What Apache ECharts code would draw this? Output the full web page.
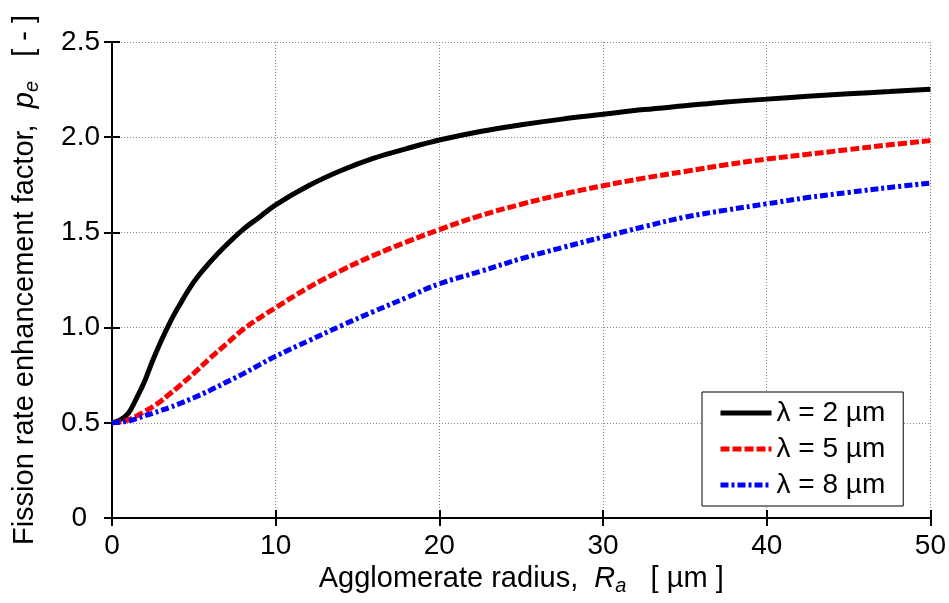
<!DOCTYPE html>
<html>
<head>
<meta charset="utf-8">
<script src="https://cdn.jsdelivr.net/npm/echarts@6/dist/echarts.min.js"></script>
<style>
html,body{margin:0;padding:0;background:#fff;}
#chart{width:949px;height:603px;}
</style>
</head>
<body>
<div id="chart"></div>
<script>
// Agglomerate radius R_a [µm]
var radius = [0, 0.5, 1, 1.5, 2, 2.5, 3, 3.5, 4, 5, 6, 7, 8, 9, 10, 12, 14, 16, 18, 20, 22.5, 25, 27.5, 30, 32.5, 35, 37.5, 40, 42.5, 45, 47.5, 50];
// lambda = 2 µm
var pe2 = [0.50, 0.515, 0.55, 0.63, 0.72, 0.83, 0.93, 1.02, 1.10, 1.24, 1.345, 1.435, 1.515, 1.58, 1.645, 1.745, 1.825, 1.89, 1.94, 1.985, 2.03, 2.065, 2.095, 2.12, 2.145, 2.165, 2.185, 2.20, 2.215, 2.228, 2.24, 2.252];
// lambda = 5 µm
var pe5 = [0.50, 0.505, 0.515, 0.535, 0.56, 0.585, 0.615, 0.65, 0.685, 0.76, 0.84, 0.915, 0.99, 1.05, 1.105, 1.21, 1.30, 1.38, 1.45, 1.515, 1.588, 1.648, 1.70, 1.745, 1.785, 1.82, 1.855, 1.885, 1.91, 1.935, 1.96, 1.982];
// lambda = 8 µm
var pe8 = [0.50, 0.503, 0.51, 0.522, 0.537, 0.55, 0.565, 0.58, 0.596, 0.632, 0.671, 0.714, 0.757, 0.804, 0.85, 0.93, 1.01, 1.085, 1.158, 1.23, 1.295, 1.362, 1.42, 1.476, 1.53, 1.58, 1.617, 1.65, 1.683, 1.71, 1.736, 1.759];
var seriesNames = ['\u03bb = 2 \u00b5m', '\u03bb = 5 \u00b5m', '\u03bb = 8 \u00b5m'];
var xTicks = {min: 0, max: 50, interval: 10};
var yTicks = {min: 0, max: 2.5, interval: 0.5};

var FONT = '"Liberation Sans", Arial, Helvetica, sans-serif';
function pairs(ys){ return radius.map(function(x,i){ return [x, ys[i]]; }); }

var chart = echarts.init(document.getElementById('chart'), null, {renderer:'canvas'});
var axisLine = {show:true, lineStyle:{color:'#000', width:2}};
var tick = {show:true, inside:true, length:8, lineStyle:{color:'#000', width:2}};
var grid = {show:true, lineStyle:{color:'#888', width:1, type:[1,2]}};
var nameRich = {
  i:{fontFamily:FONT, fontSize:29, fontStyle:'italic', color:'#000'},
  s:{fontFamily:FONT, fontSize:20, fontStyle:'italic', color:'#000', verticalAlign:'bottom', padding:[14,0,0,0]}
};

chart.setOption({
  animation:false,
  backgroundColor:'#fff',
  grid:{left:112, right:18, top:42, bottom:85, containLabel:false},
  legend:{
    orient:'vertical', left:702, top:392,
    backgroundColor:'#fff', borderColor:'#000', borderWidth:1,
    padding:[6, 18, 6, 16], itemGap:6, itemWidth:51, itemHeight:30, itemTextGap:17,
    textStyle:{fontFamily:FONT, fontSize:28, color:'#000', lineHeight:30},
    itemStyle:{opacity:0},
    lineStyle:{width:5},
    data:seriesNames
  },
  xAxis:[{
    type:'value', min:xTicks.min, max:xTicks.max, interval:xTicks.interval,
    axisLine:axisLine, axisTick:tick, splitLine:grid,
    axisLabel:{fontFamily:FONT, fontSize:28, color:'#000', margin:14},
    name:'Agglomerate radius,  {i|R}{s|a}   [ \u00b5m ]',
    nameLocation:'middle', nameGap:44,
    nameTextStyle:{fontFamily:FONT, fontSize:29, color:'#000', rich:nameRich}
  },{
    type:'value', position:'top', min:xTicks.min, max:xTicks.max, interval:xTicks.interval,
    axisLine:axisLine, axisTick:tick, splitLine:{show:false}, axisLabel:{show:false}
  }],
  yAxis:[{
    type:'value', min:yTicks.min, max:yTicks.max, interval:yTicks.interval,
    axisLine:axisLine, axisTick:tick, splitLine:grid,
    axisLabel:{fontFamily:FONT, fontSize:28, color:'#000', margin:12,
      formatter:function(v){ return v === 0 ? '{z|0}' : v.toFixed(1); },
      rich:{z:{fontFamily:FONT, fontSize:28, color:'#000', padding:[0,13,0,0]}}},
    name:'Fission rate enhancement factor,  {i|p}{s|e}   [ - ]',
    nameLocation:'middle', nameGap:70,
    nameTextStyle:{fontFamily:FONT, fontSize:29, color:'#000', rich:nameRich}
  },{
    type:'value', position:'right', min:yTicks.min, max:yTicks.max, interval:yTicks.interval,
    axisLine:axisLine, axisTick:tick, splitLine:{show:false}, axisLabel:{show:false}
  }],
  series:[
    {name:seriesNames[0], type:'line', data:pairs(pe2), smooth:0.4, symbol:'none',
     lineStyle:{color:'#000', width:5, type:'solid'}, itemStyle:{color:'#000'}},
    {name:seriesNames[1], type:'line', data:pairs(pe5), smooth:0.4, symbol:'none',
     lineStyle:{color:'#ff0000', width:5, type:[9,3]}, itemStyle:{color:'#ff0000'}},
    {name:seriesNames[2], type:'line', data:pairs(pe8), smooth:0.4, symbol:'none',
     lineStyle:{color:'#0000ff', width:5, type:[8,3,3,3]}, itemStyle:{color:'#0000ff'}}
  ]
});
</script>
</body>
</html>
